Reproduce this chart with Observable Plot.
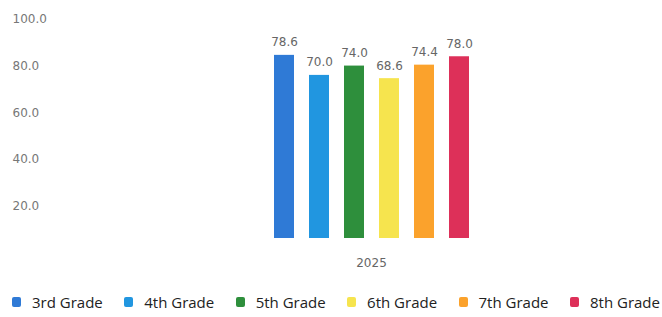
<!DOCTYPE html>
<html>
<head>
<meta charset="utf-8">
<script src="https://cdn.jsdelivr.net/npm/d3@7"></script>
<script src="https://cdn.jsdelivr.net/npm/@observablehq/plot@0.6"></script>
<style>
  html, body { margin: 0; padding: 0; background: #fff; }
  #chart { width: 662px; }
  .legend { display: flex; justify-content: space-between; width: 662px; box-sizing: border-box;
            padding: 0 2px 0 12px; font-family: "Open Sans", sans-serif; font-size: 15px; color: #222;
            margin-top: 12px; line-height: 20px; }
  .legend span.item { display: flex; align-items: center; }
  .legend i { display: inline-block; width: 9px; height: 10px; border-radius: 2px; margin-right: 11px; }
</style>
</head>
<body>
<div id="chart"></div>
<script>
const years = ["2025"];
const grades = ["3rd Grade", "4th Grade", "5th Grade", "6th Grade", "7th Grade", "8th Grade"];
const values = [78.6, 70.0, 74.0, 68.6, 74.4, 78.0];
const yTicks = [20, 40, 60, 80, 100];

const colors = ["#2f7ad6", "#2196e0", "#2e8f3c", "#f6e44e", "#fba22c", "#dd3059"];

const data = grades.map((g, i) => ({grade: g, value: values[i], year: years[0]}));

const chart = Plot.plot({
  width: 662,
  height: 280,
  marginLeft: 80,
  marginRight: 0,
  marginTop: 5,
  marginBottom: 42,
  style: {fontFamily: "DejaVu Sans, sans-serif", background: "#fff"},
  x: {domain: grades, range: [266, 476], paddingInner: 0.43, paddingOuter: 0.215, axis: null},
  y: {domain: [0, 100], axis: null},
  color: {domain: grades, range: colors},
  marks: [
    Plot.axisY({ticks: yTicks, tickSize: 0, textAnchor: "start", dx: -59, dy: 14, label: null,
                tickFormat: d => d.toFixed(1), fill: "#777", fontSize: 12}),
    Plot.barY(data, {x: "grade", y: "value", fill: "grade"}),
    Plot.text(data, {x: "grade", y: "value", text: d => d.value.toFixed(1), dy: -13,
                     fill: "#666", fontSize: 12}),
    Plot.text(years, {text: d => d, frameAnchor: "bottom", dy: 28, fill: "#666", fontSize: 12})
  ]
});
document.getElementById("chart").appendChild(chart);

const legend = document.createElement("div");
legend.className = "legend";
grades.forEach((g, i) => {
  const item = document.createElement("span");
  item.className = "item";
  const sw = document.createElement("i");
  sw.style.background = colors[i];
  item.appendChild(sw);
  item.appendChild(document.createTextNode(g));
  legend.appendChild(item);
});
document.getElementById("chart").appendChild(legend);
</script>
</body>
</html>
